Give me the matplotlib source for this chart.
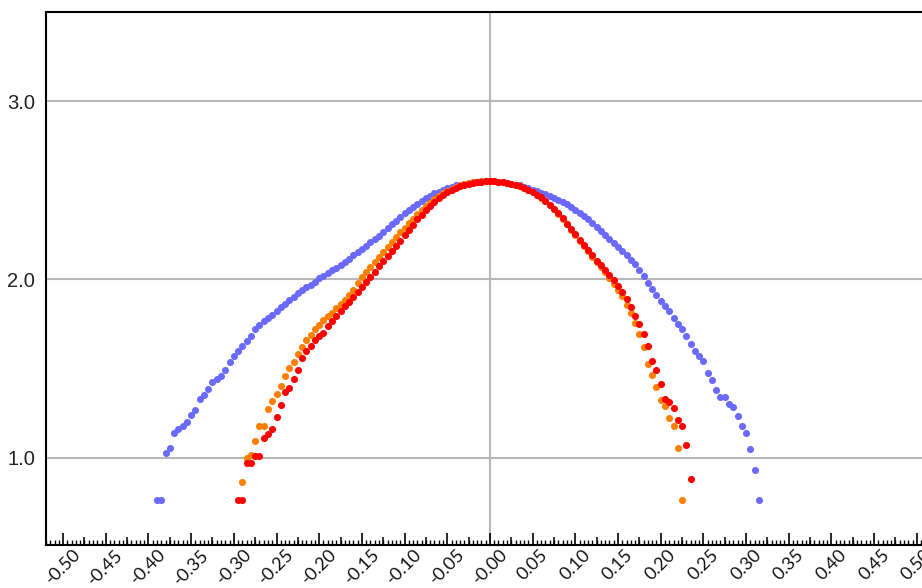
import numpy as np
import matplotlib
matplotlib.use("Agg")
import matplotlib.pyplot as plt

# y values, points sit on a 0.005 grid in x
blue_x0 = -0.39
blue_y = [0.765, 0.765, 1.026, 1.054, 1.138, 1.161, 1.175, 1.198, 1.241, 1.269,
          1.329, 1.353, 1.385, 1.422, 1.441, 1.459, 1.493, 1.534, 1.571, 1.596,
          1.627, 1.657, 1.683, 1.721, 1.745, 1.764, 1.783, 1.801, 1.824, 1.844,
          1.863, 1.885, 1.904, 1.923, 1.941, 1.956, 1.969, 1.988,
          2.006, 2.02, 2.035, 2.05, 2.063, 2.078, 2.097, 2.117, 2.135, 2.153,
          2.172, 2.19, 2.207, 2.224, 2.245, 2.265, 2.287, 2.309, 2.33, 2.352,
          2.372, 2.39, 2.408, 2.425, 2.441, 2.456, 2.47, 2.482, 2.493, 2.503,
          2.512, 2.52, 2.527, 2.532, 2.537, 2.541, 2.544, 2.547, 2.549, 2.55,
          2.55,
          2.55, 2.548, 2.546, 2.542, 2.537, 2.532, 2.527, 2.52, 2.512, 2.503,
          2.495, 2.487, 2.478, 2.468, 2.458, 2.447, 2.435, 2.421, 2.406, 2.39,
          2.373, 2.355, 2.336, 2.316, 2.295, 2.273, 2.25, 2.228, 2.206, 2.184,
          2.161, 2.137, 2.109, 2.085, 2.053, 2.020, 1.979, 1.945, 1.913, 1.881,
          1.852, 1.820, 1.783, 1.751, 1.721, 1.680, 1.637, 1.596, 1.568, 1.543,
          1.474, 1.437, 1.381, 1.340, 1.343, 1.303, 1.282, 1.235, 1.179, 1.138,
          1.049, 0.929, 0.765]

orange_x0 = -0.29
orange_y = [0.862, 1.0, 1.017, 1.091, 1.179, 1.179, 1.271, 1.318, 1.358, 1.403,
            1.459, 1.505, 1.537, 1.58, 1.621, 1.661, 1.689, 1.723, 1.745, 1.773,
            1.792, 1.814, 1.839, 1.863, 1.885, 1.913, 1.941, 1.979, 2.012, 2.044,
            2.072, 2.1, 2.128, 2.156, 2.184, 2.212, 2.24, 2.265, 2.29, 2.315,
            2.34, 2.365, 2.388, 2.41, 2.43, 2.45, 2.468, 2.484, 2.497, 2.509,
            2.519, 2.527, 2.534, 2.54, 2.544, 2.547, 2.55, 2.551,
            2.552,
            2.55, 2.548, 2.545, 2.541, 2.536, 2.53, 2.522, 2.512, 2.501, 2.488,
            2.474, 2.457, 2.437, 2.417, 2.394, 2.369, 2.34, 2.308, 2.278, 2.247,
            2.216, 2.186, 2.157, 2.128, 2.097, 2.068, 2.04, 2.008, 1.975, 1.941,
            1.905, 1.855, 1.812, 1.753, 1.695, 1.619, 1.527, 1.465, 1.395, 1.321,
            1.289, 1.222, 1.176, 1.054, 0.765]

red_x0 = -0.295
red_y = [0.765, 0.765, 0.970, 0.970, 1.011, 1.011, 1.110, 1.133, 1.161, 1.228,
         1.293, 1.366, 1.390, 1.441, 1.493, 1.559, 1.596, 1.624, 1.661, 1.680,
         1.702, 1.736, 1.764, 1.792, 1.820, 1.852, 1.876, 1.904, 1.932, 1.956,
         1.988, 2.016, 2.044, 2.076, 2.105, 2.132, 2.161, 2.188, 2.217, 2.249,
         2.277, 2.307, 2.336, 2.363, 2.39, 2.414, 2.436, 2.457, 2.475, 2.49,
         2.503, 2.514, 2.523, 2.531, 2.537, 2.542, 2.546, 2.549, 2.551,
         2.552,
         2.551, 2.549, 2.546, 2.542, 2.537, 2.531, 2.523, 2.514, 2.503, 2.49,
         2.476, 2.46, 2.44, 2.42, 2.397, 2.372, 2.345, 2.313, 2.283, 2.252,
         2.222, 2.192, 2.163, 2.135, 2.105, 2.08, 2.055, 2.025, 1.995, 1.962,
         1.928, 1.890, 1.844, 1.797, 1.751, 1.695, 1.624, 1.540, 1.493, 1.414,
         1.330, 1.310, 1.278, 1.213, 1.179, 1.069, 0.883]

step = 0.005
series = [(blue_x0, blue_y, "#6a6aff"),
          (orange_x0, orange_y, "#ff8000"),
          (red_x0, red_y, "#ff0000")]

xtick_vals = np.round(np.arange(-0.50, 0.501, 0.05), 2)
xtick_labels = ["%.2f" % v for v in xtick_vals]
ytick_vals = [1.0, 2.0, 3.0]
ytick_labels = ["1.0", "2.0", "3.0"]

fig = plt.figure(figsize=(9.22, 5.88), dpi=100)
ax = fig.add_axes([0.0499, 0.0731, 0.963, 0.9065])

for x0, ys, col in series:
    xs = x0 + step * np.arange(len(ys))
    ax.plot(xs, ys, "o", color=col, markersize=5.1, markeredgewidth=0, zorder=3)

ax.set_xlim(-0.52, 0.52)
ax.set_ylim(0.51, 3.5)

# grid: horizontal at the labelled values, one vertical line at zero
for yv in ytick_vals:
    ax.axhline(yv, color="#b8b8b8", lw=1.5, zorder=1)
ax.axvline(0.0, color="#b8b8b8", lw=1.5, zorder=1)

ax.set_yticks(ytick_vals)
ax.set_yticklabels(ytick_labels, fontsize=14.5, family="Liberation Sans", color="#222222")
ax.tick_params(axis="y", length=0, pad=8)

ax.set_xticks(xtick_vals)
ax.set_xticklabels(xtick_labels, rotation=45, fontsize=13, family="Lato", color="#111111")
ax.set_xticks(np.round(np.arange(-0.52, 0.52, 0.005), 3), minor=True)
ax.tick_params(axis="x", which="major", direction="in", length=8.6, width=1.2, pad=1)
ax.tick_params(axis="x", which="minor", direction="in", length=3.6, width=1.0)

# middle-length ticks at the 0.025 marks
sec = ax.secondary_xaxis("bottom")
sec.set_xticks(np.round(np.arange(-0.475, 0.5, 0.05), 3))
sec.tick_params(direction="in", length=5.8, width=1.1, labelbottom=False)
sec.spines["bottom"].set_visible(False)

for s in ["left", "top", "bottom"]:
    ax.spines[s].set_linewidth(1.5)
    ax.spines[s].set_color("black")
ax.spines["right"].set_visible(False)

fig.savefig("out.png", dpi=100)
